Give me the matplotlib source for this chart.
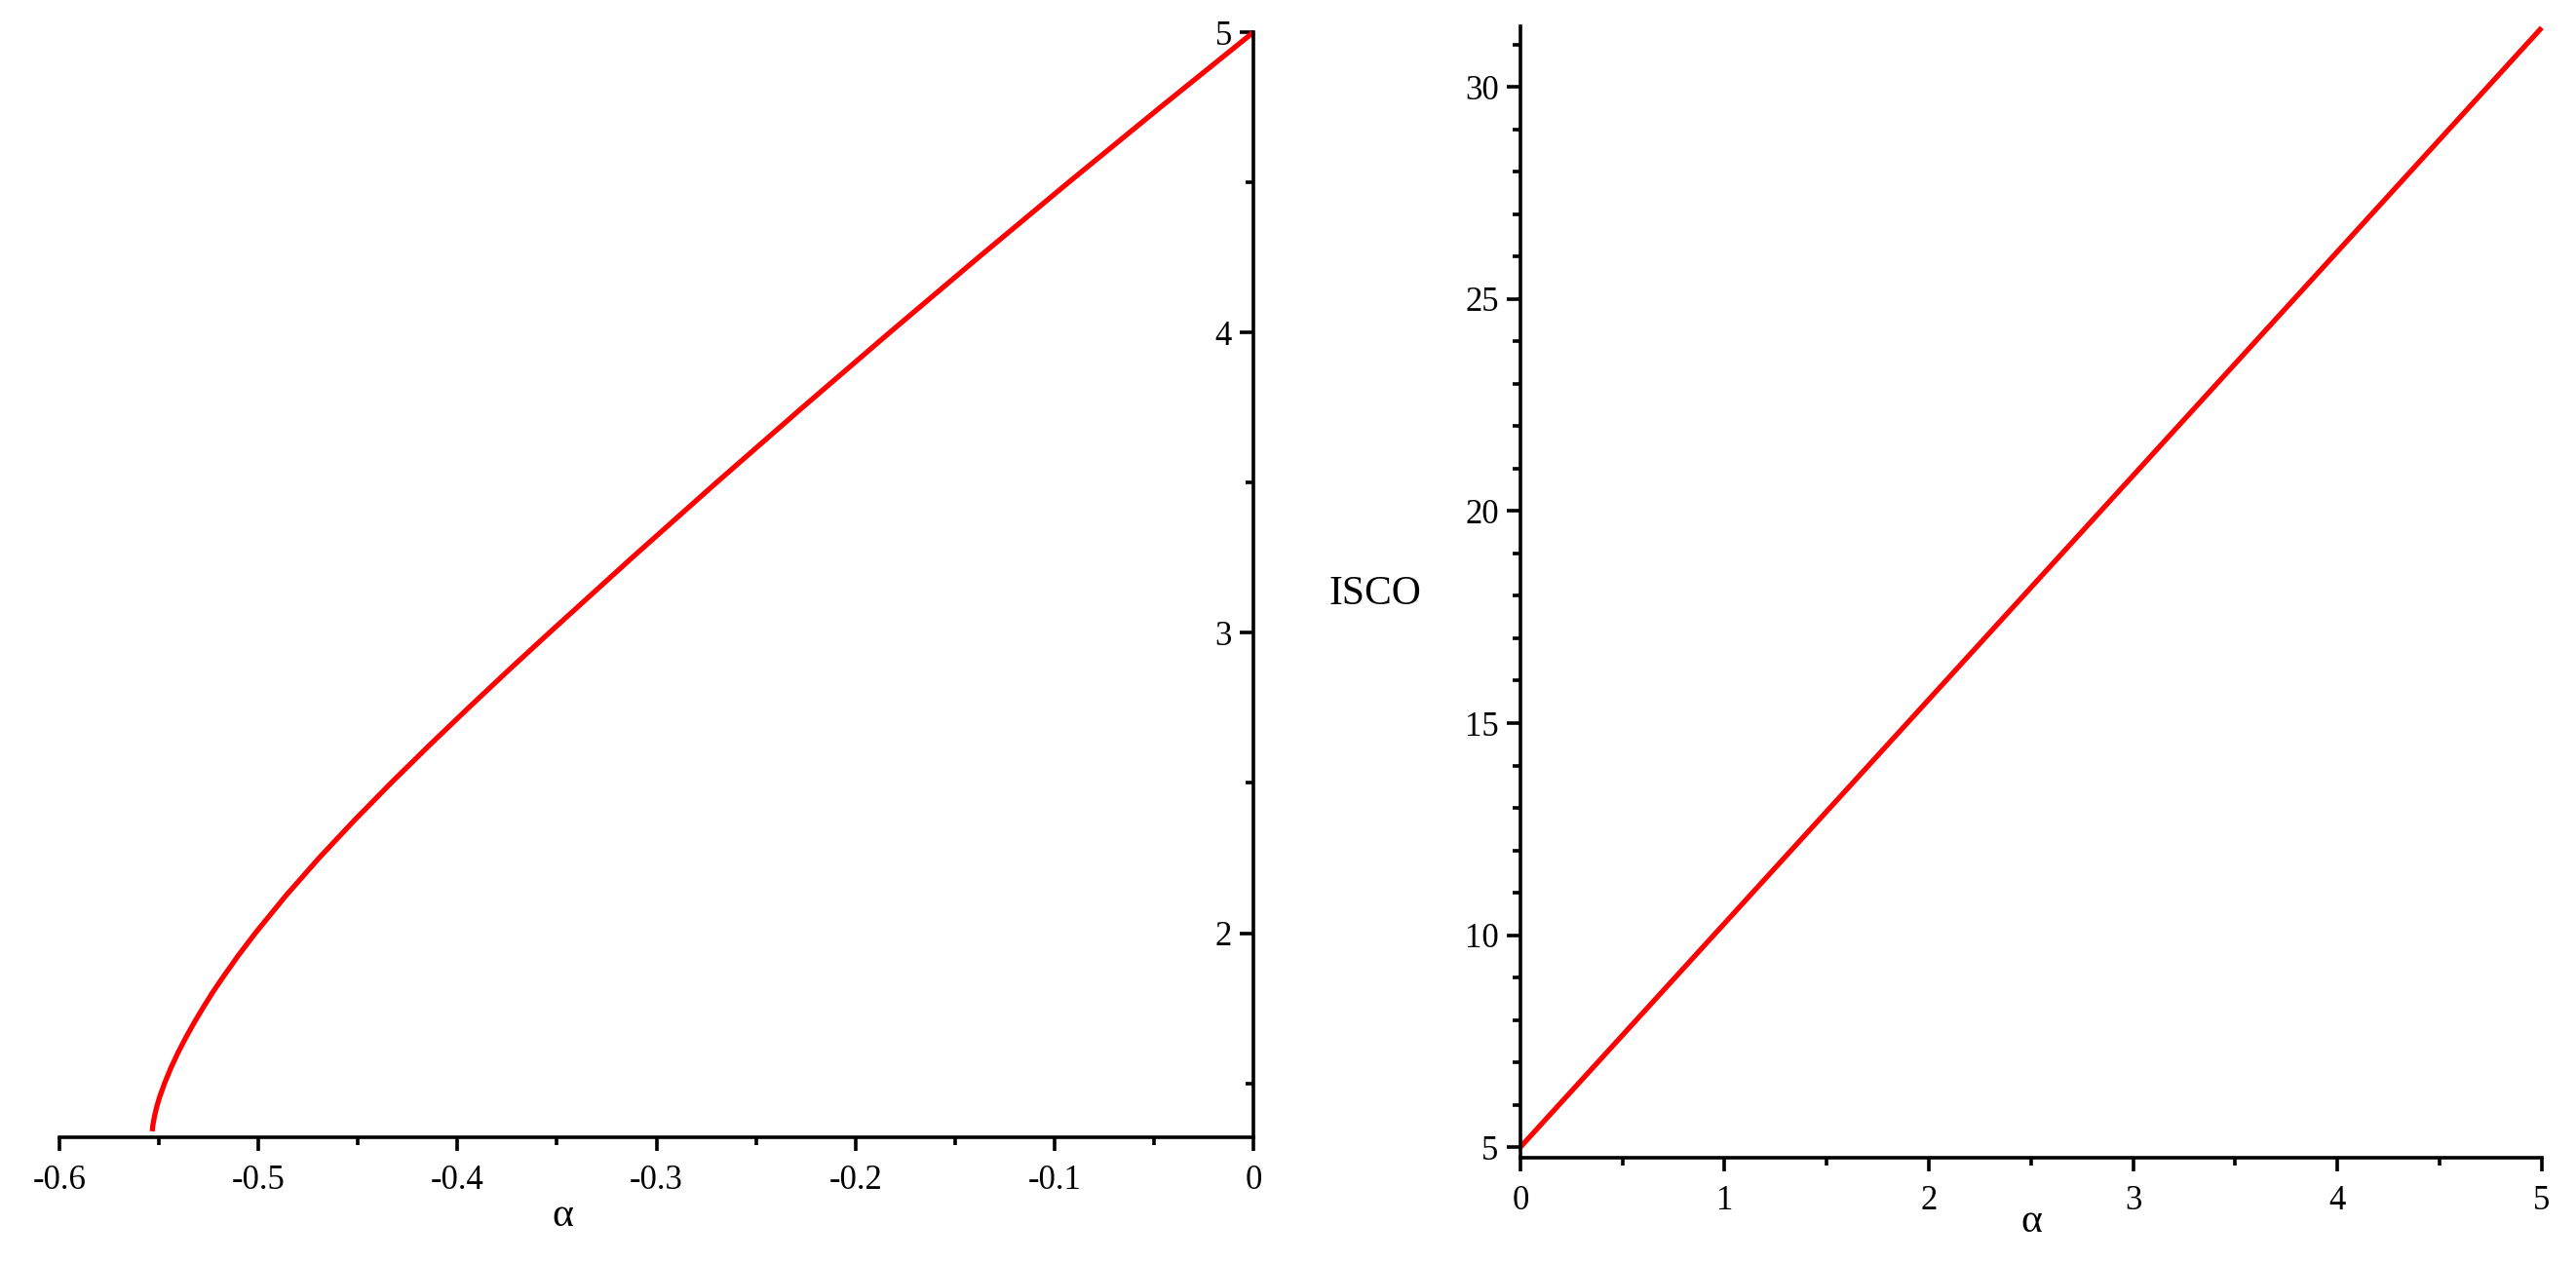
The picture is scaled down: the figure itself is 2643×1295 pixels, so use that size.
import matplotlib
matplotlib.use('Agg')
import matplotlib.pyplot as plt
from matplotlib.ticker import FixedLocator, FixedFormatter

plt.rcParams['font.family'] = ['Liberation Serif', 'DejaVu Serif']
plt.rcParams['axes.unicode_minus'] = False

# Left panel: ISCO curve for negative alpha
alpha_neg = [-0.5534, -0.5531, -0.5523, -0.5512, -0.5497, -0.5472, -0.5441,
             -0.5406, -0.5367, -0.5325, -0.5280, -0.5233, -0.5182, -0.5102,
             -0.5016, -0.4862, -0.4696, -0.4519, -0.4334, -0.4142, -0.3945,
             -0.3744, -0.3539, -0.3123, -0.2699, -0.2267, -0.1828, -0.1382,
             -0.0929, -0.0468, 0.0]
isco_neg = [1.340, 1.360, 1.389, 1.420, 1.454, 1.500, 1.550,
            1.600, 1.650, 1.700, 1.750, 1.800, 1.850, 1.925,
            2.000, 2.125, 2.250, 2.375, 2.500, 2.625, 2.750,
            2.875, 3.000, 3.250, 3.500, 3.750, 4.000, 4.250,
            4.500, 4.750, 5.000]

# Right panel: ISCO for positive alpha
alpha_pos = [0.0, 1.0, 2.0, 3.0, 4.0, 5.0]
isco_pos = [5.0, 10.28, 15.56, 20.84, 26.12, 31.40]

# Tick labels
left_xticks = [-0.6, -0.5, -0.4, -0.3, -0.2, -0.1, 0.0]
left_xlabels = ['-0.6', '-0.5', '-0.4', '-0.3', '-0.2', '-0.1', '0']
left_xminor = [-0.55, -0.45, -0.35, -0.25, -0.15, -0.05]
left_yticks = [2, 3, 4, 5]
left_yminor = [1.5, 2.5, 3.5, 4.5]
right_xticks = [0, 1, 2, 3, 4, 5]
right_xminor = [0.5, 1.5, 2.5, 3.5, 4.5]
right_yticks = [5, 10, 15, 20, 25, 30]
right_yminor = [v for v in range(6, 32) if v % 5 != 0]

fig = plt.figure(figsize=(26.43, 12.95), dpi=100)
ax1 = fig.add_axes([0.0231, 0.0988, 0.4635, 0.8757])
ax2 = fig.add_axes([0.5902, 0.0826, 0.3965, 0.8965])


def style_axes(ax):
    # Maple style: only the two axis lines
    ax.spines['top'].set_visible(False)
    ax.spines['right'].set_visible(False)
    ax.spines['left'].set_position(('data', 0))
    for side in ['left', 'bottom']:
        ax.spines[side].set_linewidth(2.6)
    ax.tick_params(which='major', length=10, width=2.6, labelsize=25, direction='out')
    ax.tick_params(which='minor', length=6, width=2.6, direction='out')
    ax.tick_params(axis='x', pad=10)
    ax.tick_params(axis='y', pad=6)


# Left plot
ax1.plot(alpha_neg, isco_neg, color='red', linewidth=3.8, clip_on=False,
         solid_capstyle='butt', solid_joinstyle='round')
ax1.set_xlim(-0.6, 0)
ax1.set_ylim(1.32, 5)
style_axes(ax1)
ax1.xaxis.set_major_locator(FixedLocator(left_xticks))
ax1.xaxis.set_major_formatter(FixedFormatter(left_xlabels))
ax1.xaxis.set_minor_locator(FixedLocator(left_xminor))
ax1.yaxis.set_major_locator(FixedLocator(left_yticks))
ax1.yaxis.set_major_formatter(FixedFormatter([str(v) for v in left_yticks]))
ax1.yaxis.set_minor_locator(FixedLocator(left_yminor))
ax1.text(-0.347, 1.32 - 81 / 307.5, 'α', fontsize=30, ha='center', va='center')

# Right plot
ax2.plot(alpha_pos, isco_pos, color='red', linewidth=3.8, clip_on=False,
         solid_capstyle='butt')
ax2.set_xlim(0, 5)
ax2.set_ylim(4.75, 31.43)
style_axes(ax2)
ax2.xaxis.set_major_locator(FixedLocator(right_xticks))
ax2.xaxis.set_major_formatter(FixedFormatter([str(v) for v in right_xticks]))
ax2.xaxis.set_minor_locator(FixedLocator(right_xminor))
ax2.yaxis.set_major_locator(FixedLocator(right_yticks))
ax2.yaxis.set_major_formatter(FixedFormatter([str(v) for v in right_yticks]))
ax2.yaxis.set_minor_locator(FixedLocator(right_yminor))
ax2.text(2.5, 4.75 - 66 / 43.4, 'α', fontsize=30, ha='center', va='center')
fig.text(1411 / 2643, 1 - 610 / 1295, 'ISCO', fontsize=30, ha='center', va='center')

fig.savefig('out.png', dpi=100, facecolor='white')
